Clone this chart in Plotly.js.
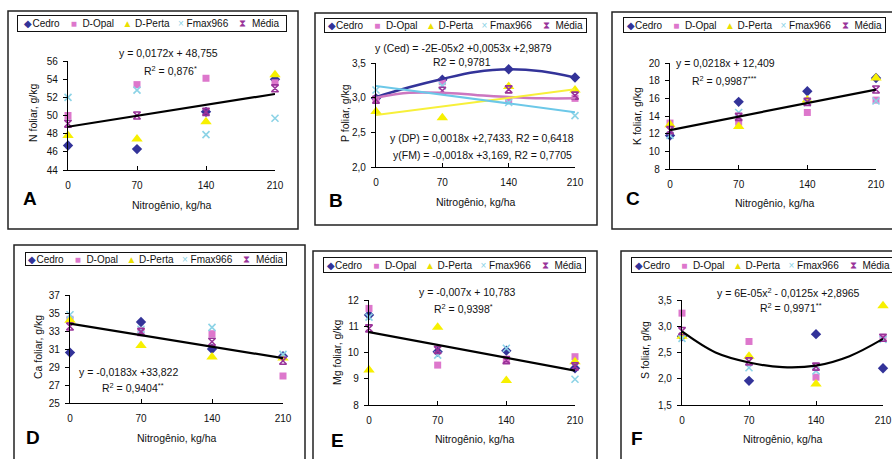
<!DOCTYPE html>
<html><head><meta charset="utf-8">
<script src="https://cdn.plot.ly/plotly-3.0.1.min.js"></script>
<style>html,body{margin:0;padding:0;background:#fff}#chart{width:892px;height:459px}</style>
</head><body><div id="chart"></div>
<script>
// ---------- data ----------
const doses = [0, 70, 140, 210];
const doseTickText = ['0', '70', '140', '210'];
const seriesNames = ['Cedro', 'D-Opal', 'D-Perta', 'Fmax966', 'Média'];
const trendX = [0, 210];
const curveX = [0, 35, 70, 105, 140, 175, 210];

// A - N foliar
const nCedro = [46.7, 46.3, 50.4, 54.0];
const nOpal  = [50.0, 53.4, 54.1, 53.6];
const nPerta = [47.8, 47.4, 49.3, 54.5];
const nFmax  = [52.0, 52.8, 47.9, 49.7];
const nMedia = [49.1, 50.0, 50.4, 53.0];
const nTrend = [48.76, 52.37];

// B - P foliar
const pCedro = [2.99, 3.26, 3.41, 3.29];
const pOpal  = [2.97, 3.23, 2.96, 2.99];
const pPerta = [2.80, 2.71, 3.16, 3.11];
const pFmax  = [3.11, 3.17, 2.93, 2.74];
const pMedia = [2.97, 3.10, 3.12, 3.03];
const pCedroCurve = [3.01, 3.15, 3.27, 3.37, 3.41, 3.38, 3.29];
const pOpalCurve  = [3.00, 3.07, 3.07, 3.04, 3.01, 2.99, 2.99];
const pPertaTrend = [2.75, 3.12];
const pFmaxTrend  = [3.17, 2.79];

// C - K foliar
const kCedro = [11.8, 15.6, 16.8, 18.3];
const kOpal  = [13.2, 13.3, 14.4, 15.8];
const kPerta = [13.0, 12.8, 15.8, 18.3];
const kFmax  = [11.8, 14.4, 15.5, 15.7];
const kMedia = [12.4, 13.9, 15.6, 17.0];
const kTrend = [12.41, 16.99];

// D - Ca foliar
const caCedro = [30.6, 34.0, 31.0, 30.2];
const caOpal  = [34.3, 32.9, 32.7, 28.0];
const caPerta = [34.2, 31.4, 30.1, 30.0];
const caFmax  = [34.8, 33.2, 33.4, 30.4];
const caMedia = [33.5, 32.9, 31.8, 29.7];
const caTrend = [33.82, 29.98];

// E - Mg foliar
const mgCedro = [11.43, 10.03, 10.07, 9.40];
const mgOpal  = [11.68, 9.52, 9.70, 9.84];
const mgPerta = [9.33, 10.96, 8.93, 9.65];
const mgFmax  = [11.35, 9.90, 10.16, 8.98];
const mgMedia = [10.92, 10.10, 9.71, 9.47];
const mgTrend = [10.78, 9.31];

// F - S foliar
const sCedro = [2.81, 1.96, 2.85, 2.20];
const sOpal  = [3.25, 2.71, 2.03, 2.77];
const sPerta = [2.81, 2.43, 1.90, 3.39];
const sFmax  = [2.77, 2.21, 2.15, 2.75];
const sMedia = [2.91, 2.33, 2.23, 2.78];
const sCurve = [2.90, 2.50, 2.31, 2.22, 2.25, 2.43, 2.76];

// ---------- styling ----------
const W = 892, H = 459;
const px = v => v / W;
const py = v => 1 - v / H;
const FONT = 'Liberation Sans, Arial, sans-serif';
const TXT = '#111';

const markerStyles = [
  {symbol: 'diamond', color: '#333399', size: 8},
  {symbol: 'square', color: '#DD77CC', size: 7},
  {symbol: 'triangle-up', color: '#F7F000', size: 10},
  {symbol: 'x-thin-open', color: '#8CD3E6', size: 7, line: {color: '#8CD3E6', width: 1.6}},
  {symbol: 'hourglass-open', color: '#993399', size: 7, line: {color: '#993399', width: 1.6}}
];

const panels = [
  {id: '', letter: 'A', ytitle: 'N foliar, g/kg', range: [44, 56], dtick: 2, fmt: 'd',
   xd: [68, 275], yd: [61, 170], data: [nCedro, nOpal, nPerta, nFmax, nMedia],
   box: [8, 11, 298, 229], legend: [17, 15, 287, 32],
   ytx: [33, 113], xtx: [172, 205], let: [30, 199]},
  {id: '2', letter: 'B', ytitle: 'P foliar, g/kg', range: [2, 3.5], dtick: 0.5, fmt: '.1f',
   xd: [376, 575], yd: [63, 167], data: [pCedro, pOpal, pPerta, pFmax, pMedia],
   box: [315, 13, 597, 225], legend: [324, 18, 587, 33],
   ytx: [345, 113], xtx: [476, 202], let: [336, 200]},
  {id: '3', letter: 'C', ytitle: 'K foliar, g/kg', range: [8, 20], dtick: 2, fmt: 'd',
   xd: [670, 876], yd: [63, 169], data: [kCedro, kOpal, kPerta, kFmax, kMedia],
   box: [612, 12, 905, 229], legend: [623, 17, 886, 33],
   ytx: [637, 116], xtx: [775, 203], let: [633, 199]},
  {id: '4', letter: 'D', ytitle: 'Ca foliar, g/kg', range: [25, 37], dtick: 2, fmt: 'd',
   xd: [70, 283], yd: [295, 403], data: [caCedro, caOpal, caPerta, caFmax, caMedia],
   box: [14, 245, 305, 470], legend: [25, 252, 287, 266],
   ytx: [38, 347], xtx: [177, 438], let: [33, 437]},
  {id: '5', letter: 'E', ytitle: 'Mg foliar, g/kg', range: [8, 12], dtick: 1, fmt: 'd',
   xd: [369, 575], yd: [300, 405], data: [mgCedro, mgOpal, mgPerta, mgFmax, mgMedia],
   box: [313, 251, 597, 470], legend: [323, 257, 586, 273],
   ytx: [337, 352], xtx: [475, 439], let: [337, 440]},
  {id: '6', letter: 'F', ytitle: 'S foliar, g/kg', range: [1.5, 3.5], dtick: 0.5, fmt: '.1f',
   xd: [682, 883], yd: [300, 405], data: [sCedro, sOpal, sPerta, sFmax, sMedia],
   box: [621, 251, 905, 470], legend: [631, 257, 894, 273],
   ytx: [645, 350], xtx: [783, 439], let: [637, 438]}
];

const traces = [];
const layout = {
  width: W, height: H,
  margin: {l: 0, r: 0, t: 0, b: 0},
  paper_bgcolor: '#fff', plot_bgcolor: 'rgba(0,0,0,0)',
  showlegend: false,
  separators: ', ',
  font: {family: FONT, size: 10, color: TXT},
  shapes: [], annotations: []
};

const SP = '&nbsp;';
const legendText =
  '<span style="color:#333399">◆</span>Cedro' + SP.repeat(4) +
  '<span style="color:#DD77CC">■</span>' + SP.repeat(2) + 'D-Opal' + SP.repeat(3) +
  '<span style="color:#EBE000">▲</span>' + SP + 'D-Perta' + SP.repeat(3) +
  '<span style="color:#8CD3E6">×</span>' + SP + 'Fmax966' + SP.repeat(4) +
  '<span style="color:#993399">⧗</span>' + SP.repeat(2) + 'Média';

panels.forEach(p => {
  const xa = 'x' + p.id, ya = 'y' + p.id;
  p.data.forEach((vals, i) => {
    const ms = markerStyles[i];
    const marker = {symbol: ms.symbol, color: ms.color, size: ms.size};
    if (ms.line) marker.line = ms.line;
    traces.push({type: 'scatter', mode: 'markers', x: doses, y: vals, name: seriesNames[i],
      xaxis: xa, yaxis: ya, marker: marker, cliponaxis: false});
  });
  layout['xaxis' + p.id] = {
    domain: [px(p.xd[0]), px(p.xd[1])], anchor: ya, range: [0, 210],
    tickvals: doses, ticktext: doseTickText, ticks: 'inside', ticklen: 4, tickwidth: 1,
    tickcolor: '#000', showline: true, linecolor: '#000', linewidth: 1.2,
    showgrid: false, zeroline: false, ticklabelstandoff: 6,
    tickfont: {family: FONT, size: 10, color: TXT}, fixedrange: true
  };
  layout['yaxis' + p.id] = {
    domain: [py(p.yd[1]), py(p.yd[0])], anchor: xa, range: p.range,
    tick0: p.range[0], dtick: p.dtick, tickformat: p.fmt, ticks: 'outside', ticklen: 4,
    tickwidth: 1, tickcolor: '#000', showline: true, linecolor: '#000', linewidth: 1.2,
    showgrid: false, zeroline: false, ticklabelstandoff: 3,
    tickfont: {family: FONT, size: 10, color: TXT}, fixedrange: true
  };
  layout.shapes.push({type: 'rect', xref: 'paper', yref: 'paper',
    x0: px(p.box[0]), x1: px(p.box[2]), y0: py(p.box[3]), y1: py(p.box[1]),
    line: {color: '#222', width: 1.5}, fillcolor: 'rgba(0,0,0,0)', layer: 'below'});
  const lg = p.legend;
  layout.annotations.push({xref: 'paper', yref: 'paper',
    x: px((lg[0] + lg[2]) / 2), y: py((lg[1] + lg[3]) / 2), xanchor: 'center', yanchor: 'middle',
    width: lg[2] - lg[0] - 4, height: lg[3] - lg[1] - 4, align: 'center', valign: 'middle',
    showarrow: false, bordercolor: '#111', borderwidth: 1, borderpad: 1, bgcolor: '#fff',
    font: {family: FONT, size: 10, color: TXT}, text: legendText});
  layout.annotations.push({xref: 'paper', yref: 'paper', x: px(p.ytx[0]), y: py(p.ytx[1]),
    xanchor: 'center', yanchor: 'middle', showarrow: false, textangle: -90,
    text: p.ytitle, font: {family: FONT, size: 10.5, color: TXT}});
  layout.annotations.push({xref: 'paper', yref: 'paper', x: px(p.xtx[0]), y: py(p.xtx[1]),
    xanchor: 'center', yanchor: 'middle', showarrow: false,
    text: 'Nitrogênio, kg/ha', font: {family: FONT, size: 10.5, color: TXT}});
  layout.annotations.push({xref: 'paper', yref: 'paper', x: px(p.let[0]), y: py(p.let[1]),
    xanchor: 'center', yanchor: 'middle', showarrow: false,
    text: '<b>' + p.letter + '</b>', font: {family: FONT, size: 19, color: '#000'}});
});

// trend lines (drawn on top)
const tl = (x, y, ax, color, w, shape) => traces.push({type: 'scatter', mode: 'lines', x: x, y: y,
  xaxis: 'x' + ax, yaxis: 'y' + ax, line: {color: color, width: w, shape: shape || 'linear', smoothing: 1},
  cliponaxis: false, hoverinfo: 'skip'});
tl(trendX, nTrend, '', '#000', 2.2);
tl(curveX, pCedroCurve, '2', '#333399', 2.5, 'spline');
tl(curveX, pOpalCurve, '2', '#CC77C0', 2.5, 'spline');
tl(trendX, pPertaTrend, '2', '#F7F03A', 2);
tl(trendX, pFmaxTrend, '2', '#6CC8E8', 2);
tl(trendX, kTrend, '3', '#000', 2.2);
tl(trendX, caTrend, '4', '#000', 2.2);
tl(trendX, mgTrend, '5', '#000', 2.2);
tl(curveX, sCurve, '6', '#000', 2.2, 'spline');

// equations
const eq = (text, x, y, anchor) => layout.annotations.push({xref: 'paper', yref: 'paper',
  x: px(x), y: py(y), xanchor: anchor || 'center', yanchor: 'middle', showarrow: false,
  text: text, font: {family: FONT, size: 10.5, color: TXT}});
eq('y = 0,0172x + 48,755', 168, 53);
eq('R<sup>2</sup> = 0,876<sup>*</sup>', 170, 70);
eq('y (Ced) = -2E-05x2 +0,0053x +2,9879', 464, 48);
eq('R2 = 0,9781', 462, 62);
eq('y (DP) = 0,0018x +2,7433, R2 = 0,6418', 482, 138);
eq('y(FM) = -0,0018x +3,169, R2 = 0,7705', 482, 155);
eq('y = 0,0218x + 12,409', 674, 63, 'left');
eq('R<sup>2</sup> = 0,9987<sup>***</sup>', 690, 80, 'left');
eq('y = -0,0183x +33,822', 77, 372, 'left');
eq('R<sup>2</sup> = 0,9404<sup>**</sup>', 100, 387, 'left');
eq('y = -0,007x + 10,783', 467, 292);
eq('R<sup>2</sup> = 0,9398<sup>*</sup>', 463, 308);
eq('y = 6E-05x<sup>2</sup> - 0,0125x +2,8965', 788, 292);
eq('R<sup>2</sup> = 0,9971<sup>**</sup>', 791, 307);

Plotly.newPlot('chart', traces, layout, {staticPlot: true, displayModeBar: false});
</script></body></html>
